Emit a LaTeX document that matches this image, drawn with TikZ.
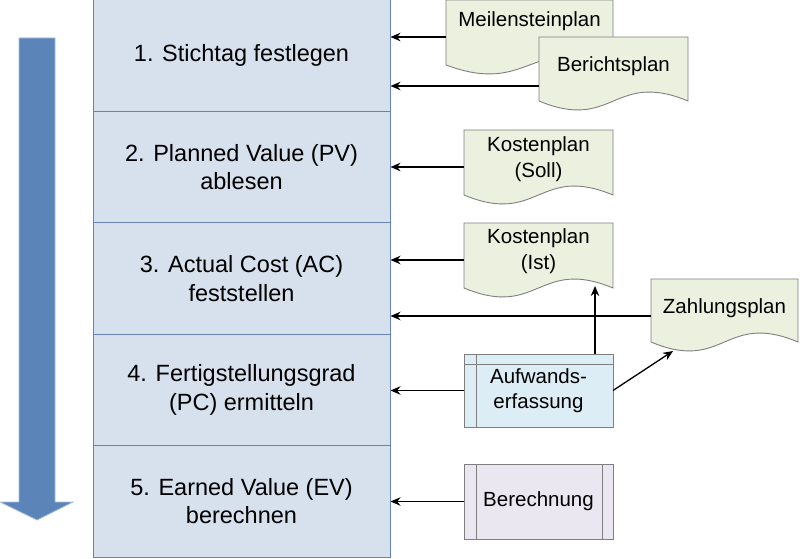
\documentclass[tikz,border=0pt]{standalone}
\usepackage{fontspec}
\setmainfont{Liberation Sans}
\usetikzlibrary{arrows.meta,calc,backgrounds}
\definecolor{stepfill}{HTML}{D7E0ED}
\definecolor{stepline}{HTML}{6384B6}
\definecolor{docfill}{HTML}{EBF1DE}
\definecolor{docgray}{HTML}{7F7F7F}
\definecolor{aufwfill}{HTML}{DDEDF6}
\definecolor{berfill}{HTML}{EAE7F0}
\definecolor{arrowblue}{HTML}{5B85B9}

\newcommand{\docshape}[3]{%
  \path[docline] ($(#1.west)+(0,-#2)$) -- ($(#1.east)+(0,-#2)$) -- ($(#1.east)+(0,#3)$)
    .. controls ($(#1.center)+(0,#3-31)$) and ($(#1.center)+(0,#3+31)$) .. ($(#1.west)+(0,#3)$) -- cycle;}

\begin{document}
\begin{tikzpicture}
        [x=1pt, y=-1pt,
         stepbox/.style={draw=stepline, fill=stepfill, line width=1pt, minimum width=297, minimum height=111.4, inner sep=0, align=center, font=\fontsize{23.5}{28.5}\selectfont},
         doc/.style={minimum width=149, inner sep=0, outer sep=0, align=center, font=\fontsize{20.5}{26.5}\selectfont},
         docline/.style={draw=docgray, fill=docfill, line width=0.9pt},
         proc/.style={draw=docgray, line width=0.9pt, minimum width=149, inner sep=0, outer sep=0, align=center, font=\fontsize{20.5}{25}\selectfont},
         flow/.style={line width=1.3pt, -{Stealth[length=10pt,width=8.5pt]}}]

        \useasboundingbox (0,0) rectangle (800,559);

        \fill[arrowblue, draw=arrowblue!55!white, line width=0.8pt] (19,38) -- (55,38) -- (55,502) -- (73,502) -- (37,520) -- (0,502) -- (19,502) -- cycle;

        \node[stepbox] (s1) at (241.5, 55.7) {1. Stichtag festlegen};
        \node[stepbox] (s2) at (241.5, 167.1) {2. Planned Value (PV)\\ablesen};
        \node[stepbox] (s3) at (241.5, 278.5) {3. Actual Cost (AC)\\feststellen};
        \node[stepbox] (s4) at (241.5, 389.9) {4. Fertigstellungsgrad\\(PC) ermitteln};
        \node[stepbox] (s5) at (241.5, 501.3) {5. Earned Value (EV)\\berechnen};

        \node[doc, minimum width=167] (mile) at (529.5, 21) {Meilensteinplan};
        \node[doc] (bericht) at (613.5, 66) {Berichtsplan};
        \node[doc] (ksoll) at (538.5, 159) {Kostenplan\\(Soll)};
        \node[doc] (kist) at (538.5, 251) {Kostenplan\\(Ist)};
        \node[doc, minimum width=147] (zahl) at (724.5, 308) {Zahlungsplan};
        \node[proc, fill=aufwfill, minimum height=73] (aufw) at (538.5, 390.5) {Aufwands-\\erfassung};
        \node[proc, fill=berfill, minimum height=75] (ber) at (538.5, 501.5) {Berechnung};

        \begin{scope}[on background layer]
          \docshape{mile}{21}{44}
          \docshape{bericht}{29}{35}
          \docshape{ksoll}{29}{36}
          \docshape{kist}{28}{37}
          \docshape{zahl}{29}{34}
        \end{scope}

        \draw[docgray, line width=0.9pt] ([xshift=12]aufw.north west) -- ([xshift=12]aufw.south west);
        \draw[docgray, line width=0.9pt] ([yshift=-10]aufw.north west) -- ([yshift=-10]aufw.north east);
        \draw[docgray, line width=0.9pt] ([xshift=12]ber.north west) -- ([xshift=12]ber.south west);
        \draw[docgray, line width=0.9pt] ([xshift=-11]ber.north east) -- ([xshift=-11]ber.south east);

        \draw[flow] ([yshift=-16]mile.west) -- ([yshift=-16]mile.west -| s1.east);
        \draw[flow] ([yshift=-20]bericht.west) -- ([yshift=-20]bericht.west -| s1.east);
        \draw[flow] ([yshift=-8]ksoll.west) -- ([yshift=-8]ksoll.west -| s2.east);
        \draw[flow] ([yshift=-9]kist.west) -- ([yshift=-9]kist.west -| s3.east);
        \draw[flow] ([yshift=-8]zahl.west) -- ([yshift=-8]zahl.west -| s3.east);
        \draw[flow] (aufw.west) -- (aufw.west -| s4.east);
        \draw[flow] (ber.west) -- (ber.west -| s5.east);
        \draw[flow] ([xshift=-18]aufw.north east) -- ([xshift=-18,yshift=-35]kist.east);
        \draw[flow] (aufw.east) -- ([xshift=22,yshift=-43]zahl.west);
      \end{tikzpicture}
\end{document}
